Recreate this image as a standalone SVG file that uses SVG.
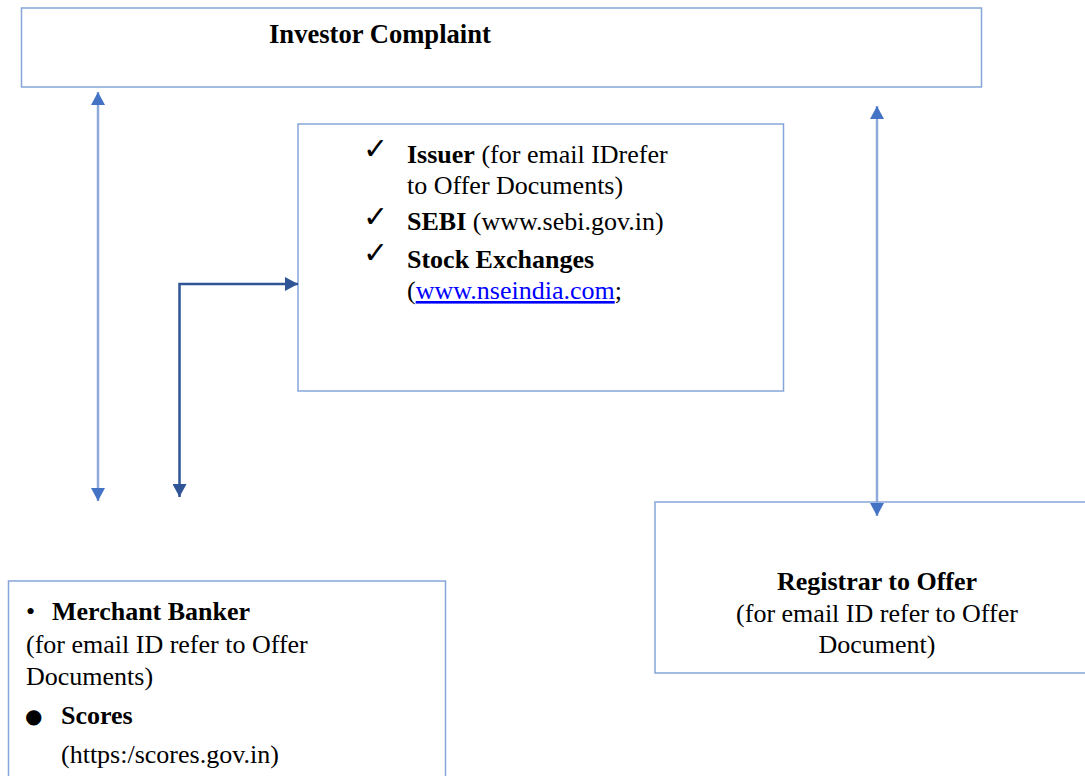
<svg xmlns="http://www.w3.org/2000/svg" width="1085" height="776" viewBox="0 0 1085 776">
<style>
.box{fill:#ffffff;stroke:#86a5d9;stroke-width:1.5}
.t{font-family:"Liberation Serif","Times New Roman",serif;font-size:26px;fill:#000}
.b{font-weight:bold}
.chk{font-family:"DejaVu Sans",sans-serif;font-size:30px;font-weight:bold;fill:#000}
.dot{font-family:"DejaVu Sans",sans-serif;font-size:20px;fill:#000}
.link{fill:#0000ff;text-decoration:underline}
.lt{fill:none;stroke:#8eaadb;stroke-width:2.5}
.dk{fill:none;stroke:#2f5597;stroke-width:2.5}
</style>
<defs>
<marker id="hl" markerUnits="userSpaceOnUse" markerWidth="14" markerHeight="14" refX="13" refY="7" orient="auto-start-reverse">
<path d="M0,0 L13,7 L0,14 z" fill="#4472c4"/>
</marker>
<marker id="hd" markerUnits="userSpaceOnUse" markerWidth="14" markerHeight="14" refX="13" refY="7" orient="auto-start-reverse">
<path d="M0,0 L13,7 L0,14 z" fill="#2f5597"/>
</marker>
</defs>
<rect width="1085" height="776" fill="#ffffff"/>
<g id="investor-complaint">
<rect class="box" x="21.5" y="8" width="960" height="79"/>
<text class="t b" x="269" y="43" style="font-size:26.6px">Investor Complaint</text>
</g>
<g id="issuer-sebi-exchanges">
<rect class="box" x="298" y="124" width="485.5" height="267"/>
<text class="chk" x="363" y="159">✓</text>
<text class="chk" x="363" y="227">✓</text>
<text class="chk" x="363" y="263">✓</text>
<text class="t" x="407" y="163"><tspan class="b">Issuer</tspan> (for email IDrefer</text>
<text class="t" x="407" y="194">to Offer Documents)</text>
<text class="t" x="407" y="230"><tspan class="b">SEBI</tspan> (www.sebi.gov.in)</text>
<text class="t b" x="407" y="268">Stock Exchanges</text>
<text class="t" x="407" y="299">(<tspan class="link">www.nseindia.com</tspan>;</text>
</g>
<g id="merchant-banker-scores">
<rect class="box" x="8.5" y="581" width="437" height="200"/>
<text class="t" x="26" y="620">•</text>
<text class="t b" x="52" y="620">Merchant Banker</text>
<text class="t" x="26" y="653">(for email ID refer to Offer</text>
<text class="t" x="26" y="685">Documents)</text>
<text class="dot" x="25" y="723">●</text>
<text class="t b" x="61" y="724">Scores</text>
<text class="t" x="61" y="763">(https:/scores.gov.in)</text>
</g>
<g id="registrar-to-offer">
<rect class="box" x="655" y="502" width="440" height="171"/>
<text class="t b" x="877" y="590" text-anchor="middle">Registrar to Offer</text>
<text class="t" x="877" y="622" text-anchor="middle">(for email ID refer to Offer</text>
<text class="t" x="877" y="653" text-anchor="middle">Document)</text>
</g>
<g id="connectors">
<line class="lt" x1="98" y1="92" x2="98" y2="501" marker-start="url(#hl)" marker-end="url(#hl)"/>
<polyline class="dk" points="179.5,497 179.5,284 298,284" marker-start="url(#hd)" marker-end="url(#hd)"/>
<line class="lt" x1="877" y1="106" x2="877" y2="516" marker-start="url(#hl)" marker-end="url(#hl)"/>
</g>
</svg>
